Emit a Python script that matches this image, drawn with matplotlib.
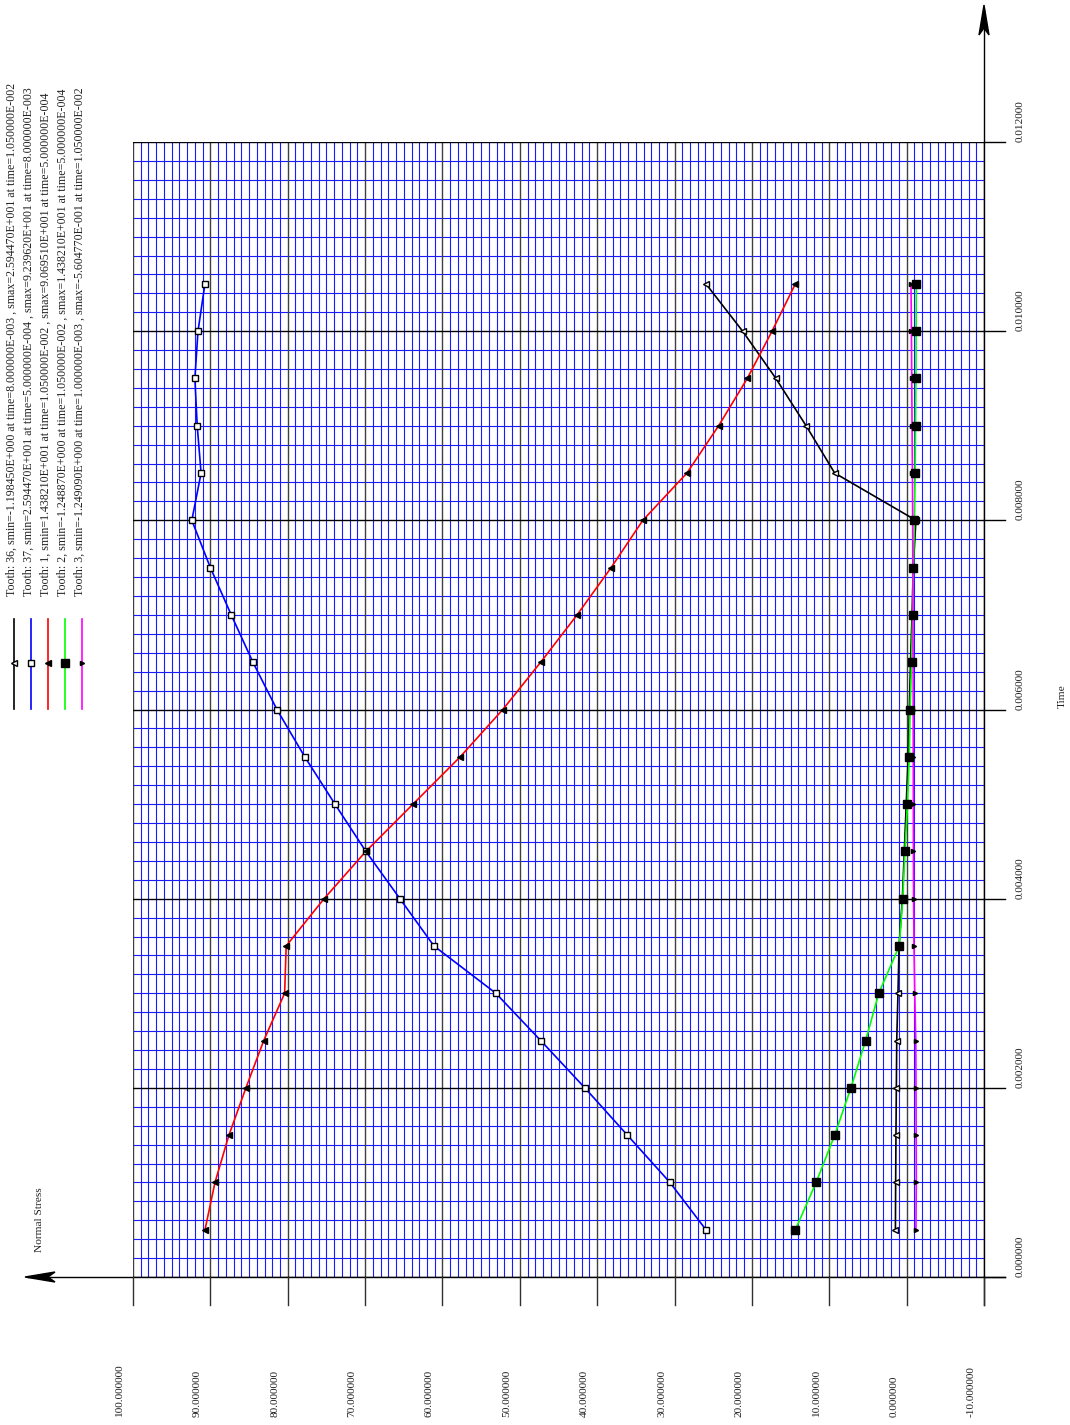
import matplotlib
matplotlib.use("Agg")
import matplotlib.pyplot as plt
from matplotlib.patches import Polygon
from matplotlib.lines import Line2D
from matplotlib.transforms import blended_transform_factory

# ---- data -------------------------------------------------------------
time = [0.0005, 0.0010, 0.0015, 0.0020, 0.0025, 0.0030, 0.0035, 0.0040,
        0.0045, 0.0050, 0.0055, 0.0060, 0.0065, 0.0070, 0.0075, 0.0080,
        0.0085, 0.0090, 0.0095, 0.0100, 0.0105]

tooth36 = [1.45, 1.42, 1.38, 1.33, 1.28, 1.12, 0.98, 0.55, 0.30, 0.05,
           -0.20, -0.35, -0.50, -0.70, -0.85, -1.19845, 9.3, 13.0, 16.9,
           21.2, 25.9447]
tooth37 = [25.9447, 30.6, 36.1, 41.6, 47.3, 53.1, 61.1, 65.5, 69.9, 73.9,
           77.8, 81.4, 84.5, 87.3, 90.0, 92.3962, 91.2, 91.7, 92.0, 91.6,
           90.7]
tooth1 = [90.6951, 89.4, 87.6, 85.4, 83.1, 80.4, 80.2, 75.3, 69.9, 63.8,
          57.7, 52.2, 47.3, 42.6, 38.2, 34.1, 28.4, 24.3, 20.6, 17.4,
          14.3821]
tooth2 = [14.3821, 11.7, 9.3, 7.2, 5.3, 3.6, 0.95, 0.50, 0.22, -0.10,
          -0.34, -0.45, -0.64, -0.77, -0.88, -1.00, -1.10, -1.15, -1.20,
          -1.22, -1.24887]
tooth3 = [-1.20, -1.24909, -1.23, -1.21, -1.18, -1.05, -0.95, -0.90, -0.88,
          -0.87, -0.86, -0.85, -0.84, -0.82, -0.80, -0.78, -0.75, -0.70,
          -0.66, -0.62, -0.560477]

legend_labels = [
    "Tooth: 36, smin=-1.198450E+000 at time=8.000000E-003 , smax=2.594470E+001 at time=1.050000E-002",
    "Tooth: 37, smin=2.594470E+001 at time=5.000000E-004 , smax=9.239620E+001 at time=8.000000E-003",
    "Tooth: 1, smin=1.438210E+001 at time=1.050000E-002 , smax=9.069510E+001 at time=5.000000E-004",
    "Tooth: 2, smin=-1.248870E+000 at time=1.050000E-002 , smax=1.438210E+001 at time=5.000000E-004",
    "Tooth: 3, smin=-1.249090E+000 at time=1.000000E-003 , smax=-5.604770E-001 at time=1.050000E-002",
]

stress_ticks = [100, 90, 80, 70, 60, 50, 40, 30, 20, 10, 0, -10]
stress_ticklabels = ["100.000000", "90.000000", "80.000000", "70.000000",
                     "60.000000", "50.000000", "40.000000", "30.000000",
                     "20.000000", "10.000000", "0.000000", "-10.000000"]
time_ticks = [0.0, 0.002, 0.004, 0.006, 0.008, 0.010, 0.012]
time_ticklabels = ["0.000000", "0.002000", "0.004000", "0.006000",
                   "0.008000", "0.010000", "0.012000"]

# ---- figure -----------------------------------------------------------
W, H = 1070, 1425
plt.rcParams["font.family"] = ["Liberation Serif", "DejaVu Serif"]
plt.rcParams["axes.unicode_minus"] = False
fig = plt.figure(figsize=(W / 100, H / 100), dpi=100)
fig.patch.set_facecolor("white")


def fx(px):
    return px / W


def fy(py):
    return 1 - py / H


L, R, T, B = 133, 984, 142, 1277
ax = fig.add_axes([fx(L), fy(B), fx(R) - fx(L), fy(T) - fy(B)])
ax.set_xlim(100, -10)
ax.set_ylim(0.0, 0.012)
ax.axis("off")

# fine grid
for k in range(-10, 101):
    if k % 10 == 0:
        continue
    ax.axvline(k, color="#1a1aff", lw=0.8, zorder=1)
for k in range(0, 61):
    t = k * 0.0002
    if k % 10 == 0:
        continue
    ax.axhline(t, color="#1a1aff", lw=0.8, zorder=1)
# major grid
for s in stress_ticks:
    ax.axvline(s, color="#404040", lw=1.0, zorder=2)
for t in time_ticks:
    ax.axhline(t, color="#000000", lw=1.0, zorder=2)

# series: values, line colour, marker, marker face, marker size
series = [
    (tooth36, "#000000", "<", "white", 4),
    (tooth37, "#0000ff", "s", "white", 4.5),
    (tooth1, "#ff0000", "<", "black", 4),
    (tooth2, "#00ff00", "s", "black", 5.5),
    (tooth3, "#ff00ff", ">", "black", 3),
]
for vals, col, mk, mfc, ms in series:
    ax.plot(vals, time, color=col, lw=1.2, zorder=3)
    ax.plot(vals, time, ls="none", marker=mk, markersize=ms,
            markerfacecolor=mfc, markeredgecolor="black",
            markeredgewidth=1.0, zorder=4)

# ---- axes lines, ticks and arrows (pixel space) ------------------------
ov = fig.add_axes([0, 0, 1, 1], facecolor="none")
ov.set_xlim(0, W)
ov.set_ylim(H, 0)
ov.axis("off")

ov.plot([28, 1005], [B, B], color="black", lw=1.0)
ov.plot([R, R], [1305, 10], color="black", lw=1.0)
ov.add_patch(Polygon([(R, 5), (R - 5, 35), (R, 28), (R + 5, 35)],
                     closed=True, color="black"))
ov.add_patch(Polygon([(25, B), (55, B - 5), (48, B), (55, B + 5)],
                     closed=True, color="black"))

xt = blended_transform_factory(ax.transData, fig.transFigure)
yt = blended_transform_factory(fig.transFigure, ax.transData)

for s, lab in zip(stress_ticks, stress_ticklabels):
    fig.add_artist(Line2D([s, s], [fy(B), fy(1305)], transform=xt,
                          color="#303030", lw=1.0))
    px = ax.transData.transform((s, 0))[0]
    fig.text(fx(px - 13), fy(1417), lab, rotation=90, ha="center",
             va="bottom", fontsize=8.2, color="#222222")

for t, lab in zip(time_ticks, time_ticklabels):
    fig.add_artist(Line2D([fx(R), fx(1005)], [t, t], transform=yt,
                          color="black", lw=1.0))
    fig.text(fx(1020), t, lab, rotation=90, ha="center", va="bottom",
             fontsize=8.2, color="#222222", transform=yt)

fig.text(fx(40), fy(1252), "Normal Stress", rotation=90, ha="center",
         va="bottom", fontsize=8.2, color="#222222")
fig.text(fx(1062), fy(708), "Time", rotation=90, ha="center",
         va="bottom", fontsize=8.2, color="#222222")

# ---- legend -----------------------------------------------------------
leg_x = [14, 31, 48, 65, 82]
for (vals, col, mk, mfc, ms), lx, lab in zip(series, leg_x, legend_labels):
    ov.plot([lx, lx], [619, 709], color=col, lw=1.2)
    ov.plot([lx], [663], ls="none", marker=mk, markersize=ms,
            markerfacecolor=mfc, markeredgecolor="black",
            markeredgewidth=1.0)
    fig.text(fx(lx - 2), fy(596), lab, rotation=90, ha="center",
             va="bottom", fontsize=8.6, color="#222222")

fig.savefig("out.png", dpi=100)
